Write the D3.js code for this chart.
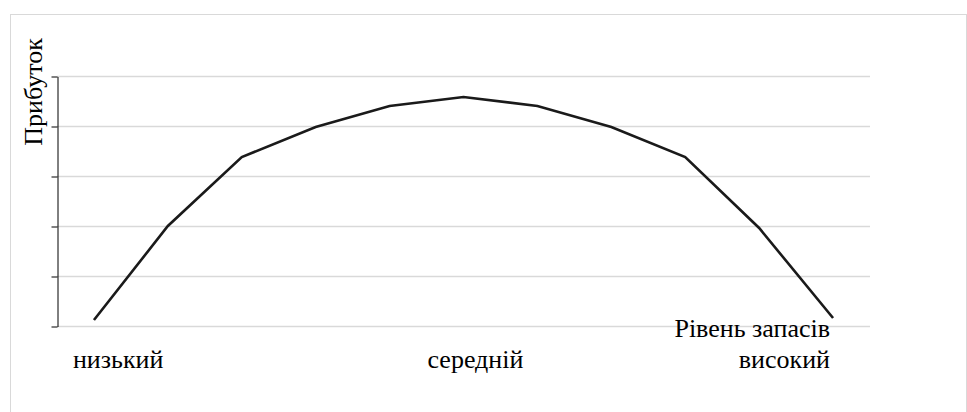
<!DOCTYPE html>
<html>
<head>
<meta charset="utf-8">
<script src="https://cdn.jsdelivr.net/npm/d3@7"></script>
<style>
  body { margin: 0; background: #fff; }
  svg { display: block; }
</style>
</head>
<body>
<svg id="chart"></svg>
<script>
// stock level steps (11 points) and profit at each step
const levels = d3.range(11);
const profit = [0.12, 2.0, 3.38, 3.98, 4.4, 4.58, 4.4, 3.98, 3.38, 1.96, 0.16];
const yTicks = [0, 1, 2, 3, 4, 5];
const levelLabels = [
    { i: 0, text: "низький", anchor: "start", dx: -21 },
    { i: 5, text: "середній", anchor: "start", dx: -36 },
    { i: 10, text: "високий", anchor: "end", dx: -3 }
];
const xTitle = "Рівень запасів";
const yTitle = "Прибуток";

const serif = "'Liberation Serif', 'Times New Roman', serif";
const fontSize = 26;
const width = 967, height = 412;
const svg = d3.select("#chart").attr("width", width).attr("height", height);

// outer frame
svg.append("rect")
    .attr("x", 10.5).attr("y", 14.5)
    .attr("width", width - 11).attr("height", height)
    .attr("fill", "none").attr("stroke", "#d9d9d9");

const plotLeft = 57, plotRight = 870, plotTop = 76, plotBottom = 326;

const x = d3.scaleBand().domain(levels).range([plotLeft, plotRight]);
const y = d3.scaleLinear().domain([0, 5]).range([plotBottom, plotTop]);
const cx = i => x(i) + x.bandwidth() / 2;

// gridlines
svg.append("g")
    .selectAll("line")
    .data(yTicks)
    .join("line")
    .attr("x1", plotLeft).attr("x2", plotRight)
    .attr("y1", d => Math.round(y(d)) + 0.5)
    .attr("y2", d => Math.round(y(d)) + 0.5)
    .attr("stroke", "#d9d9d9")
    .attr("stroke-width", 1.5);

// y axis
const yAxis = d3.axisLeft(y).tickValues(yTicks).tickFormat("").tickSize(6).tickSizeOuter(0);
svg.append("g")
    .attr("transform", `translate(${plotLeft + 0.5},0.5)`)
    .call(yAxis)
    .call(g => g.selectAll("line,path").attr("stroke", "#000"));

// profit curve
svg.append("path")
    .datum(profit)
    .attr("fill", "none")
    .attr("stroke", "#1a1a1a")
    .attr("stroke-width", 2.6)
    .attr("d", d3.line().x((d, i) => cx(i)).y(d => y(d)));

// level labels
svg.append("g")
    .selectAll("text")
    .data(levelLabels)
    .join("text")
    .attr("x", d => cx(d.i) + d.dx)
    .attr("y", 368)
    .attr("text-anchor", d => d.anchor)
    .attr("font-family", serif)
    .attr("font-size", fontSize)
    .attr("fill", "#000")
    .text(d => d.text);

svg.append("text")
    .attr("x", cx(10) - 3)
    .attr("y", 337)
    .attr("text-anchor", "end")
    .attr("font-family", serif)
    .attr("font-size", fontSize)
    .text(xTitle);

svg.append("text")
    .attr("transform", "translate(42,92) rotate(-90)")
    .attr("text-anchor", "middle")
    .attr("font-family", serif)
    .attr("font-size", fontSize)
    .text(yTitle);
</script>
</body>
</html>
